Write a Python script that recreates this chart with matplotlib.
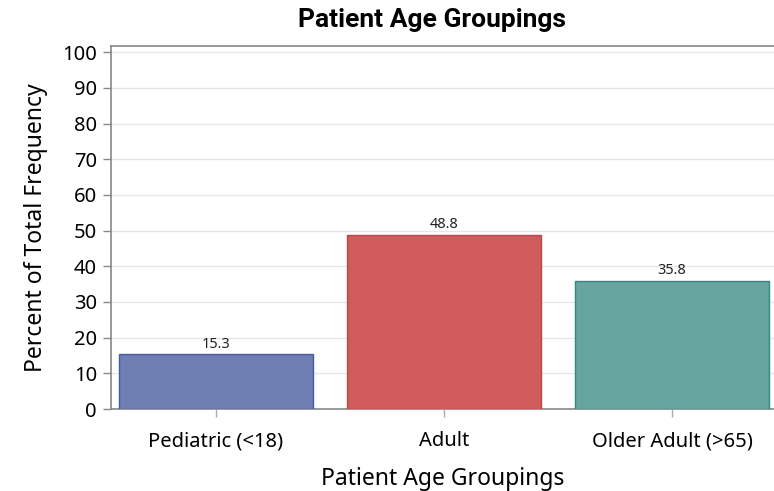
import matplotlib
matplotlib.use("Agg")
import matplotlib.pyplot as plt

# Daten
gruppen = ["Pediatric (<18)", "Adult", "Older Adult (>65)"]
prozent = [15.3, 48.8, 35.8]
farben = ["#6F7EB3", "#D05B5B", "#66A5A0"]
kanten = ["#4A5C9E", "#B8474A", "#2F8A80"]
yticks = [0, 10, 20, 30, 40, 50, 60, 70, 80, 90, 100]

plt.rcParams["font.family"] = ["Noto Sans", "DejaVu Sans"]

fig = plt.figure(figsize=(7.74, 4.91), dpi=100)
ax = fig.add_axes([0.1434, 0.167, 0.856, 0.739])

x = list(range(len(gruppen)))
bars = ax.bar(x, prozent, width=0.85, color=farben, edgecolor=kanten, linewidth=1.0, zorder=3)
for b, v in zip(bars, prozent):
    ax.text(b.get_x() + b.get_width() / 2, v + 0.8, "%.1f" % v, ha="center", va="bottom",
            fontsize=10.5, color="#222222", zorder=4)

ax.set_xlim(-0.46, 2.445)
ax.set_ylim(0, 101.7)
ax.set_yticks(yticks)
ax.set_xticks(x)
ax.set_xticklabels(gruppen, fontsize=14.5)
ax.tick_params(axis="y", labelsize=14.5, length=6, color="#888888", width=1, pad=4)
ax.tick_params(axis="x", length=6, color="#aaaaaa", width=1, pad=10)
ax.yaxis.grid(True, color="#e6e6e6", linewidth=1, zorder=0)

for s in ["left", "bottom", "top"]:
    ax.spines[s].set_color("#888888")
    ax.spines[s].set_linewidth(1.2)
ax.spines["right"].set_visible(False)

ax.set_xlabel("Patient Age Groupings", fontsize=16.5, labelpad=11)
ax.set_ylabel("Percent of Total Frequency", fontsize=16.5, labelpad=10)
fig.text(0.558, 0.96, "Patient Age Groupings", ha="center", va="center", fontsize=19,
         fontweight="bold", family=["Roboto", "DejaVu Sans"])

fig.savefig("out.png", dpi=100)
